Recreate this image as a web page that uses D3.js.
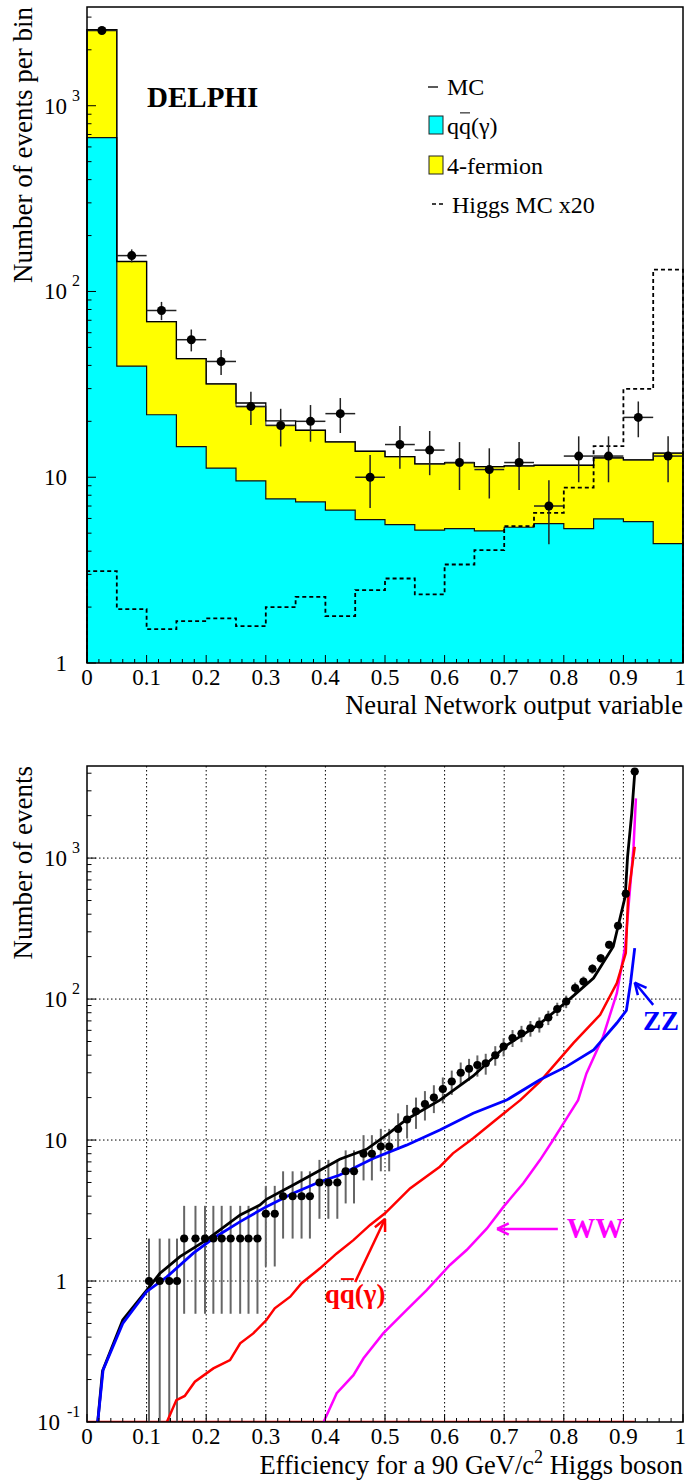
<!DOCTYPE html>
<html><head><meta charset="utf-8">
<script src="https://cdn.jsdelivr.net/npm/d3@7"></script>
<style>
body{margin:0;background:#fff}
svg{display:block}
text{font-family:"Liberation Serif","Times New Roman",serif;fill:#000}
</style>
</head><body>
<svg id="c" width="686" height="1481"></svg>
<script>
// ---------------- TOP PANEL DATA ----------------
const binEdges = [0,0.05,0.1,0.15,0.2,0.25,0.3,0.35,0.4,0.45,0.5,0.55,0.6,0.65,0.7,0.75,0.8,0.85,0.9,0.95,1.0];
const qqValues   = [673,39.6,21.7,14.6,11.2,9.56,7.65,7.36,6.66,5.92,5.56,5.19,5.29,5.14,5.38,5.63,5.29,5.97,5.77,4.39];
const stackTotal = [2566,145,68.9,43.5,31.8,24.1,19.0,17.9,15.5,13.8,12.9,11.8,12.0,11.4,11.5,11.6,11.6,12.7,12.4,13.5];
const mcTotal    = [2566,145,68.9,43.5,31.8,25.1,20.1,17.9,15.5,13.8,12.9,11.8,12.0,11.4,11.5,11.6,11.6,12.7,12.4,13.5];
const higgsX20   = [3.12,1.95,1.52,1.68,1.74,1.58,2.0,2.27,1.79,2.47,2.85,2.34,3.39,4.05,5.45,6.43,8.8,14.7,29.9,131];
const dataCounts = [2540,156,79,55,42,24,19,20,22,10,15,14,12,11,12,7,13,13,21,13];
const xTickLabels = ["0","0.1","0.2","0.3","0.4","0.5","0.6","0.7","0.8","0.9","1"];
const topYTicks = [1,10,100,1000];
const topYTickLabels = ["1","10","10^2","10^3"];
const legendLabels = ["MC","qq(γ)","4-fermion","Higgs MC x20"];

// ---------------- BOTTOM PANEL DATA ----------------
const effData = [0.104,0.122,0.138,0.151,0.163,0.182,0.198,0.212,0.226,0.241,0.257,0.271,0.286,0.300,0.315,0.329,0.345,0.360,0.374,0.390,0.405,0.420,0.434,0.448,0.464,0.478,0.493,0.507,0.522,0.537,0.552,0.567,0.582,0.597,0.612,0.627,0.641,0.655,0.669,0.685,0.699,0.714,0.729,0.744,0.759,0.774,0.789,0.804,0.819,0.833,0.848,0.862,0.876,0.891,0.904,0.919];
const nData   = [1,1,1,1,2,2,2,2,2,2,2,2,2,3,3,4,4,4,4,5,5,5,6,6,8,8,9,9,12,14,16,18,20,23,26,30,32,34,35,40,46,53,57,62,66,74,85,96,120,133,164,195,243,331,558,4110];

const mcEff = [0.018,0.026,0.06,0.10,0.122,0.156,0.2,0.257,0.29,0.301,0.346,0.391,0.424,0.469,0.508,0.536,0.592,0.648,0.704,0.760,0.805,0.85,0.883,0.903,0.907,0.914,0.919];
const mcN   = [0.1,0.23,0.53,0.86,1.13,1.49,1.95,2.94,3.46,3.8,4.8,6.1,7.3,8.6,11.3,14.0,19.2,28.5,47,67,96,141,236,534,1026,2080,4000];

const zzEff = [0.018,0.027,0.06,0.10,0.134,0.178,0.212,0.257,0.301,0.346,0.391,0.424,0.48,0.536,0.592,0.648,0.704,0.76,0.805,0.85,0.889,0.905,0.912,0.919];
const zzN   = [0.1,0.234,0.5,0.84,1.07,1.57,2.01,2.64,3.37,4.19,5.06,5.65,7.4,9.2,11.8,15.5,19.2,26.8,33.3,43.6,67.6,83,130,230];

const qqEff = [0.134,0.15,0.164,0.181,0.212,0.24,0.257,0.279,0.301,0.315,0.341,0.36,0.391,0.419,0.447,0.475,0.5,0.542,0.592,0.614,0.648,0.682,0.727,0.76,0.816,0.861,0.889,0.904,0.908,0.919];
const qqN   = [0.1,0.143,0.153,0.193,0.24,0.275,0.362,0.425,0.529,0.64,0.774,0.964,1.23,1.57,1.95,2.5,3.02,4.54,6.47,8.05,10.3,13.5,19.2,26,48.7,77.4,130,212,534,1203];

const wwEff = [0.397,0.419,0.447,0.464,0.497,0.536,0.57,0.609,0.637,0.671,0.699,0.732,0.76,0.782,0.805,0.824,0.838,0.866,0.889,0.903,0.910,0.917,0.921];
const wwN   = [0.1,0.16,0.215,0.283,0.425,0.622,0.863,1.30,1.66,2.36,3.37,4.93,7.21,10,14.3,19.2,29.7,54.3,110,236,534,1200,2650];

const botYTicks = [0.1,1,10,100,1000];
const botYTickLabels = ["10^-1","1","10","10^2","10^3"];

// ---------------- SCALES ----------------
const svg = d3.select("#c");
const L = 87, R = 683;
const T1 = 7, B1 = 663, T2 = 766, B2 = 1422;
const xT = d3.scaleLinear().domain([0,1]).range([L,R]);
const yT = d3.scaleLog().domain([1,3400]).range([B1,T1]);
const xB = d3.scaleLinear().domain([0,1]).range([L,R]);
const yB = d3.scaleLog().domain([0.1,4500]).range([B2,T2]);

// ---------------- TOP PANEL ----------------
function stepPath(vals, y, closed){
  let p = `M${xT(binEdges[0])},${B1}`;
  vals.forEach((v,i)=>{ p += `V${y(v)}H${xT(binEdges[i+1])}`; });
  p += `V${B1}`;
  if (closed) p += "Z";
  return p;
}
const gT = svg.append("g");
gT.append("path").attr("d", stepPath(stackTotal, yT, true)).attr("fill","#ffff00").attr("stroke","none");
gT.append("path").attr("d", stepPath(qqValues, yT, true)).attr("fill","#00ffff").attr("stroke","none");
gT.append("path").attr("d", stepPath(stackTotal, yT, false)).attr("fill","none").attr("stroke","#555").attr("stroke-width",1.2);
gT.append("path").attr("d", stepPath(qqValues, yT, false)).attr("fill","none").attr("stroke","#111").attr("stroke-width",1.2);
gT.append("path").attr("d", stepPath(mcTotal, yT, false)).attr("fill","none").attr("stroke","#000").attr("stroke-width",1.3);
gT.append("path").attr("d", stepPath(higgsX20, yT, false)).attr("fill","none").attr("stroke","#000").attr("stroke-width",1.8).attr("stroke-dasharray","4,3");

// data points
dataCounts.forEach((n,i)=>{
  const xc = xT((binEdges[i]+binEdges[i+1])/2);
  const e = Math.sqrt(n);
  const lo = Math.max(n-e, 1), hi = n+e;
  gT.append("line").attr("x1",xc).attr("x2",xc).attr("y1",yT(lo)).attr("y2",yT(hi)).attr("stroke","#222").attr("stroke-width",1.5);
  gT.append("line").attr("x1",xT(binEdges[i])).attr("x2",xT(binEdges[i+1])).attr("y1",yT(n)).attr("y2",yT(n)).attr("stroke","#222").attr("stroke-width",1.5);
  gT.append("circle").attr("cx",xc).attr("cy",yT(n)).attr("r",4.5).attr("fill","#000");
});

// frame
gT.append("rect").attr("x",L).attr("y",T1).attr("width",R-L).attr("height",B1-T1).attr("fill","none").attr("stroke","#000").attr("stroke-width",1.5);

function drawXAxis(g, x, base){
  for (let i=0;i<=50;i++){
    const v = i/50, major = (i%5===0);
    g.append("line").attr("x1",x(v)).attr("x2",x(v)).attr("y1",base).attr("y2",base-(major?8:4)).attr("stroke","#000").attr("stroke-width",1);
  }
  xTickLabels.forEach((t,i)=>{
    const last = i === xTickLabels.length-1;
    g.append("text").attr("x", last ? 686 : x(i/10)).attr("y",base+22)
      .attr("text-anchor", last ? "end" : "middle").attr("font-size",23).text(t);
  });
}
function drawYAxis(g, y, ticks, labels, lo, hi){
  let d = lo;
  while (d < hi){
    for (let k=1;k<10;k++){
      const v = d*k;
      if (v < lo*0.999 || v > hi) continue;
      g.append("line").attr("x1",L).attr("x2",L+(k===1?9:4.5)).attr("y1",y(v)).attr("y2",y(v)).attr("stroke","#000").attr("stroke-width",1);
    }
    d *= 10;
  }
  ticks.forEach((v,i)=>{
    const lab = labels[i];
    if (lab.includes("^")){
      const [b,e] = lab.split("^");
      const t = g.append("text").attr("y",y(v)+8).attr("font-size",23);
      t.append("tspan").attr("x", e.length>1 ? 37 : 44).text(b);
      t.append("tspan").attr("dx", e.length>1 ? 7 : 5).attr("dy",-13).attr("font-size",16).text(e);
    } else {
      g.append("text").attr("x",67).attr("y",y(v)+8).attr("text-anchor","end").attr("font-size",23).text(lab);
    }
  });
}
drawXAxis(gT, xT, B1);
drawYAxis(gT, yT, topYTicks, topYTickLabels, 1, 3400);

gT.append("text").attr("x",R).attr("y",714).attr("text-anchor","end").attr("font-size",26.5).text("Neural Network output variable");
gT.append("text").attr("transform",`translate(32,${T1}) rotate(-90)`).attr("text-anchor","end").attr("font-size",27).text("Number of events per bin");
gT.append("text").attr("x",147).attr("y",107).attr("font-size",29).attr("font-weight","bold").text("DELPHI");

// legend
const lg = gT.append("g");
lg.append("line").attr("x1",428).attr("x2",438).attr("y1",87).attr("y2",87).attr("stroke","#000").attr("stroke-width",1.3);
lg.append("text").attr("x",447).attr("y",95).attr("font-size",24).text(legendLabels[0]);
lg.append("rect").attr("x",429).attr("y",116).attr("width",14).attr("height",18).attr("fill","#00ffff").attr("stroke","#222").attr("stroke-width",1);
const qqLeg = lg.append("text").attr("x",447).attr("y",134).attr("font-size",24).text(legendLabels[1]);
lg.append("rect").attr("x",429).attr("y",156).attr("width",14).attr("height",18).attr("fill","#ffff00").attr("stroke","#222").attr("stroke-width",1);
lg.append("text").attr("x",447).attr("y",174).attr("font-size",24).text(legendLabels[2]);
lg.append("line").attr("x1",432).attr("x2",446).attr("y1",204).attr("y2",204).attr("stroke","#000").attr("stroke-width",1.3).attr("stroke-dasharray","4,3");
lg.append("text").attr("x",452).attr("y",213).attr("font-size",24).text(legendLabels[3]);

function overline(textSel, idx, color, fs, sw){
  const node = textSel.node();
  const x0 = node.getStartPositionOfChar(idx).x;
  const x1 = node.getEndPositionOfChar(idx).x;
  const yb = +textSel.attr("y");
  d3.select(node.parentNode).append("line")
    .attr("x1",x0+1).attr("x2",x1-1).attr("y1",yb-fs*0.88).attr("y2",yb-fs*0.88)
    .attr("stroke",color).attr("stroke-width",sw);
}
overline(qqLeg, 1, "#000", 24, 1);

// ---------------- BOTTOM PANEL ----------------
const gB = svg.append("g");
svg.append("defs").append("clipPath").attr("id","clipB").append("rect").attr("x",L).attr("y",T2).attr("width",R-L).attr("height",B2-T2);

// grid
for (let i=1;i<=9;i++){
  gB.append("line").attr("x1",xB(i/10)).attr("x2",xB(i/10)).attr("y1",T2).attr("y2",B2).attr("stroke","#000").attr("stroke-width",1).attr("stroke-dasharray","1.5,2.5");
}
botYTicks.slice(1).forEach(v=>{
  gB.append("line").attr("x1",L).attr("x2",R).attr("y1",yB(v)).attr("y2",yB(v)).attr("stroke","#000").attr("stroke-width",1).attr("stroke-dasharray","1.5,2.5");
});

const cl = gB.append("g").attr("clip-path","url(#clipB)");
const lineGen = d3.line().x(d=>xB(d[0])).y(d=>yB(d[1]));
const zip = (a,b)=>a.map((v,i)=>[v,b[i]]);

// red floor line (qq histogram below axis minimum)
cl.append("path").attr("d", lineGen([[0,0.1],[d3.max(qqEff),0.1]])).attr("fill","none").attr("stroke","#ff0000").attr("stroke-width",2.5);

// data error bars
effData.forEach((x,i)=>{
  const n = nData[i], e = Math.sqrt(n);
  const lo = Math.max(n-e, 0.1);
  cl.append("line").attr("x1",xB(x)).attr("x2",xB(x)).attr("y1",yB(lo)).attr("y2",yB(n+e)).attr("stroke","#666").attr("stroke-width",2);
  cl.append("line").attr("x1",xB(x-0.007)).attr("x2",xB(x+0.007)).attr("y1",yB(n)).attr("y2",yB(n)).attr("stroke","#444").attr("stroke-width",1.5);
});

cl.append("path").attr("d", lineGen(zip(wwEff,wwN))).attr("fill","none").attr("stroke","#ff00ff").attr("stroke-width",2.5);
cl.append("path").attr("d", lineGen(zip(qqEff,qqN))).attr("fill","none").attr("stroke","#ff0000").attr("stroke-width",2.5);
cl.append("path").attr("d", lineGen(zip(mcEff,mcN))).attr("fill","none").attr("stroke","#000").attr("stroke-width",2.8);
cl.append("path").attr("d", lineGen(zip(zzEff,zzN))).attr("fill","none").attr("stroke","#0000ff").attr("stroke-width",2.8);

effData.forEach((x,i)=>{
  cl.append("circle").attr("cx",xB(x)).attr("cy",yB(nData[i])).attr("r",4).attr("fill","#000");
});

gB.append("rect").attr("x",L).attr("y",T2).attr("width",R-L).attr("height",B2-T2).attr("fill","none").attr("stroke","#000").attr("stroke-width",1.5);
drawXAxis(gB, xB, B2);
drawYAxis(gB, yB, botYTicks, botYTickLabels, 0.1, 4500);

const xt = gB.append("text").attr("x",R).attr("y",1474).attr("text-anchor","end").attr("font-size",26.5);
xt.append("tspan").text("Efficiency for a 90 GeV/c");
xt.append("tspan").attr("dy",-11).attr("font-size",18).text("2");
xt.append("tspan").attr("dy",11).text(" Higgs boson");
gB.append("text").attr("transform",`translate(32,${T2}) rotate(-90)`).attr("text-anchor","end").attr("font-size",27).text("Number of events");

// annotations (in data coordinates)
const annZZ = {label:"ZZ", color:"#0000ff", size:27, tx:0.933, ty:60.5, from:[0.950,91], to:[0.919,131]};
const annWW = {label:"WW", color:"#ff00ff", size:28.5, tx:0.805, ty:2.02, from:[0.790,2.34], to:[0.688,2.34]};
const annQQ = {label:"qq(γ)", color:"#ff0000", size:27, tx:0.399, ty:0.70, from:[0.450,0.985], to:[0.5,2.75]};
[annZZ, annWW, annQQ].forEach(a=>{
  const x1=xB(a.from[0]), y1=yB(a.from[1]), x2=xB(a.to[0]), y2=yB(a.to[1]);
  gB.append("line").attr("x1",x1).attr("y1",y1).attr("x2",x2).attr("y2",y2).attr("stroke",a.color).attr("stroke-width",2.5);
  const ang = Math.atan2(y2-y1, x2-x1), hl = 13, ha = 0.45;
  [ang+Math.PI-ha, ang+Math.PI+ha].forEach(t=>{
    gB.append("line").attr("x1",x2).attr("y1",y2).attr("x2",x2+hl*Math.cos(t)).attr("y2",y2+hl*Math.sin(t)).attr("stroke",a.color).attr("stroke-width",2.5);
  });
  const t = gB.append("text").attr("x",xB(a.tx)).attr("y",yB(a.ty)).attr("font-size",a.size).attr("font-weight","bold").style("fill",a.color).text(a.label);
  if (a.label.startsWith("qq")) overline(t, 1, a.color, a.size, 2);
});
</script>
</body></html>
